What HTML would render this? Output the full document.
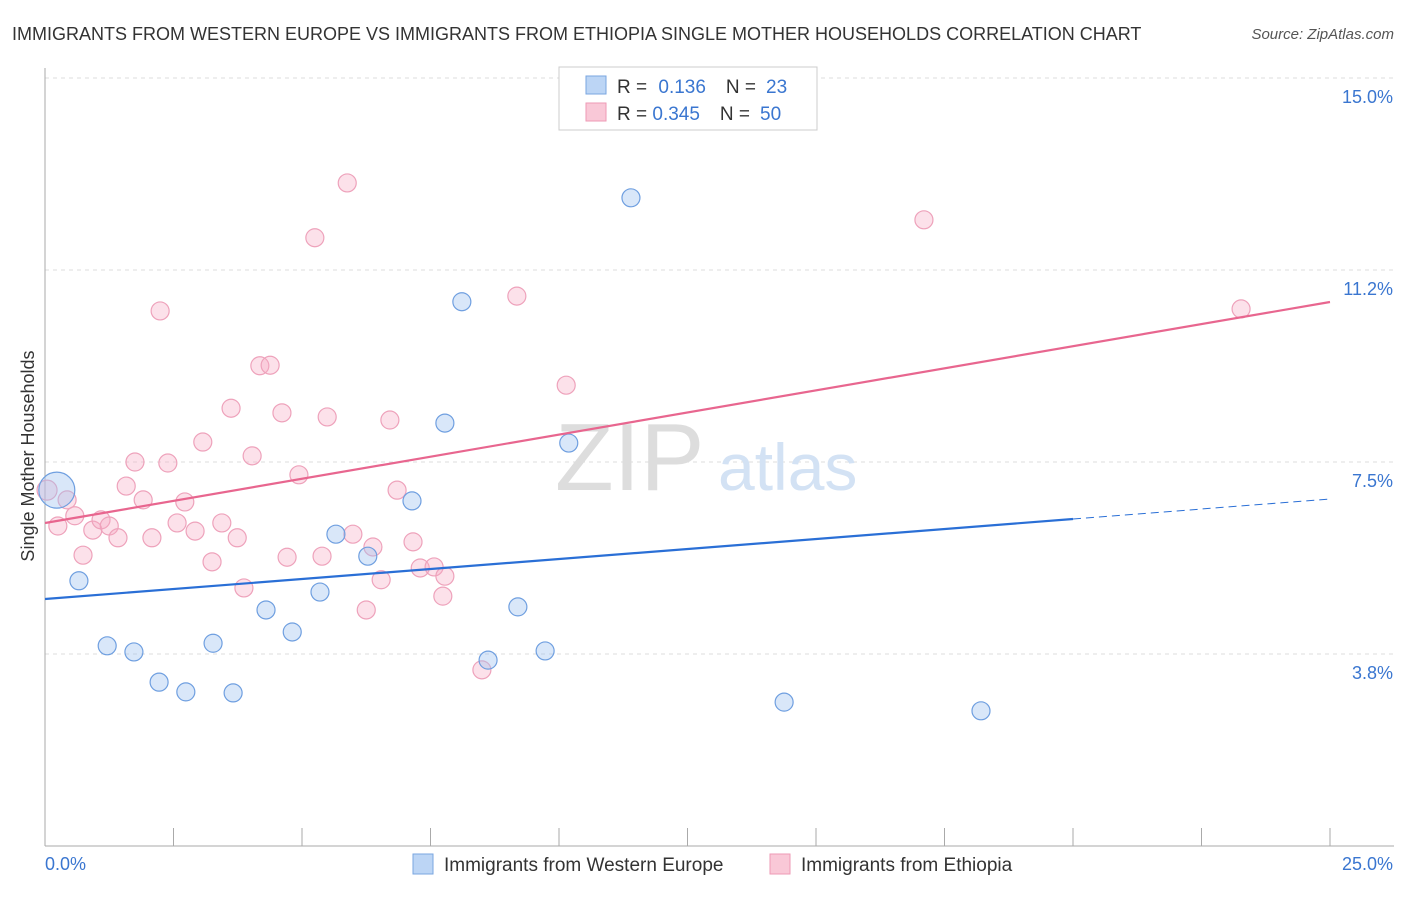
<!DOCTYPE html>
<html><head><meta charset="utf-8"><style>
body{margin:0;background:#fff;font-family:"Liberation Sans",sans-serif}
svg text{font-family:"Liberation Sans",sans-serif}
</style></head><body>
<svg id="chart" width="1406" height="892" xmlns="http://www.w3.org/2000/svg">
<text x="12" y="40" font-size="18" fill="#333">IMMIGRANTS FROM WESTERN EUROPE VS IMMIGRANTS FROM ETHIOPIA SINGLE MOTHER HOUSEHOLDS CORRELATION CHART</text>
<text x="1394" y="39" font-size="15" fill="#555" font-style="italic" text-anchor="end">Source: ZipAtlas.com</text>
<g id="grid"></g>
<g id="axes"></g>
<text x="555" y="490" font-size="96" fill="#ddd" font-family="Liberation Serif">ZIP</text>
<text x="718" y="490" font-size="66" fill="#d3e2f4">atlas</text>
<g id="marks"></g>
<text transform="translate(34,456) rotate(-90)" font-size="18" fill="#333" text-anchor="middle">Single Mother Households</text>
<g>
<rect x="559" y="67" width="258" height="63" fill="#fff" stroke="#ccc"/>
<rect x="586" y="76" width="20" height="18" fill="#bcd5f5" stroke="#7aa6e0"/>
<rect x="586" y="103" width="20" height="18" fill="#f9c8d7" stroke="#ee9ab5"/>
<text x="617" y="93" font-size="19" fill="#333">R = <tspan fill="#3a76d0" dx="6">0.136</tspan><tspan dx="20" fill="#333">N =</tspan><tspan dx="10" fill="#3a76d0">23</tspan></text>
<text x="617" y="120" font-size="19" fill="#333">R = <tspan fill="#3a76d0">0.345</tspan><tspan dx="20" fill="#333">N =</tspan><tspan dx="10" fill="#3a76d0">50</tspan></text>
</g>
<g>
<rect x="413" y="854" width="20" height="20" fill="#bcd5f5" stroke="#7aa6e0"/>
<text x="444" y="871" font-size="19" fill="#333">Immigrants from Western Europe</text>
<rect x="770" y="854" width="20" height="20" fill="#f9c8d7" stroke="#ee9ab5"/>
<text x="801" y="871" font-size="19" fill="#333">Immigrants from Ethiopia</text>
</g>
</svg>
<script>
const blueX=[0.23,0.66,1.21,1.73,2.22,2.74,3.27,3.66,4.30,4.81,5.35,5.66,6.28,7.14,7.78,8.11,8.62,9.20,9.73,10.19,11.40,14.38,18.21];
const blueY=[6.95,5.18,3.91,3.79,3.20,3.01,3.96,2.99,4.61,4.18,4.96,6.09,5.66,6.74,8.26,10.63,3.63,4.67,3.81,7.87,12.66,2.81,2.64];
const pinkX=[0.04,0.25,0.43,0.58,0.74,0.93,1.09,1.25,1.42,1.58,1.75,1.91,2.08,2.24,2.39,2.57,2.72,2.92,3.07,3.25,3.44,3.62,3.74,3.87,4.03,4.18,4.38,4.61,4.71,4.94,5.25,5.39,5.49,5.88,5.99,6.25,6.38,6.54,6.71,6.85,7.16,7.30,7.57,7.74,7.78,8.50,9.18,10.14,17.10,23.27];
const pinkY=[6.95,6.25,6.76,6.45,5.68,6.17,6.37,6.25,6.02,7.03,7.50,6.76,6.02,10.45,7.48,6.31,6.72,6.15,7.89,5.55,6.31,8.55,6.02,5.04,7.62,9.38,9.39,8.46,5.64,7.25,11.88,5.66,8.38,12.95,6.09,4.61,5.84,5.20,8.32,6.95,5.94,5.43,5.45,4.88,5.27,3.44,10.74,9.00,12.23,10.49];
const blueTrend=[4.824,6.777];
const pinkTrend=[6.309,10.625];
const yTicks=[3.75,7.5,11.25,15];
const yTickLabels=["3.8%","7.5%","11.2%","15.0%"];
const xTickVals=[0,2.5,5,7.5,10,12.5,15,17.5,20,22.5,25];
const NS="http://www.w3.org/2000/svg";
const sx=v=>45+v/25*1285;
const sy=v=>846-v/15*768;
function mk(t,a,p){const e=document.createElementNS(NS,t);for(const k in a)e.setAttribute(k,a[k]);p.appendChild(e);return e;}
const grid=document.getElementById('grid'),axes=document.getElementById('axes'),marks=document.getElementById('marks');
yTicks.forEach((v,i)=>{
 const l=mk('line',{x1:45,x2:1394,y1:sy(v),y2:sy(v),stroke:'#ddd','stroke-dasharray':'4,4'},grid);
 
 
 const t=mk('text',{x:1393,y:sy(v)+25,'font-size':18,fill:'#3a76d0','text-anchor':'end'},axes);
 t.textContent=yTickLabels[i];
 
 
});
mk('line',{x1:45,x2:45,y1:68,y2:846,stroke:'#aaa'},axes);
mk('line',{x1:45,x2:1394,y1:846,y2:846,stroke:'#aaa'},axes);
xTickVals.forEach(v=>{const l=mk('line',{x1:sx(v),x2:sx(v),y1:828,y2:846,stroke:'#aaa'},axes);
 
 });
const xl=mk('text',{x:45,y:870,'font-size':18,fill:'#3a76d0'},axes);xl.textContent='0.0%';


const xr=mk('text',{x:1393,y:870,'font-size':18,fill:'#3a76d0','text-anchor':'end'},axes);xr.textContent='25.0%';


pinkX.forEach((x,i)=>{const c=mk('circle',{cx:sx(x),cy:sy(pinkY[i]),r:i===0?10:9,fill:'rgba(246,170,195,0.35)',stroke:'#eea2bb','stroke-width':1.2},marks);
 
 });
blueX.forEach((x,i)=>{const c=mk('circle',{cx:sx(x),cy:sy(blueY[i]),r:i===0?18:9,fill:'rgba(160,195,240,0.4)',stroke:'#6f9fe0','stroke-width':1.2},marks);
 
 });
const bMid=blueTrend[0]+(blueTrend[1]-blueTrend[0])*0.8;
const b1=mk('line',{x1:sx(0),y1:sy(blueTrend[0]),x2:sx(20),y2:sy(bMid),stroke:'#2a6fd6','stroke-width':2.2},marks);


const b2=mk('line',{x1:sx(20),y1:sy(bMid),x2:sx(25),y2:sy(blueTrend[1]),stroke:'#2a6fd6','stroke-width':1,'stroke-dasharray':'8,5'},marks);


const p1=mk('line',{x1:sx(0),y1:sy(pinkTrend[0]),x2:sx(25),y2:sy(pinkTrend[1]),stroke:'#e8668f','stroke-width':2.2},marks);


</script>
</body></html>
